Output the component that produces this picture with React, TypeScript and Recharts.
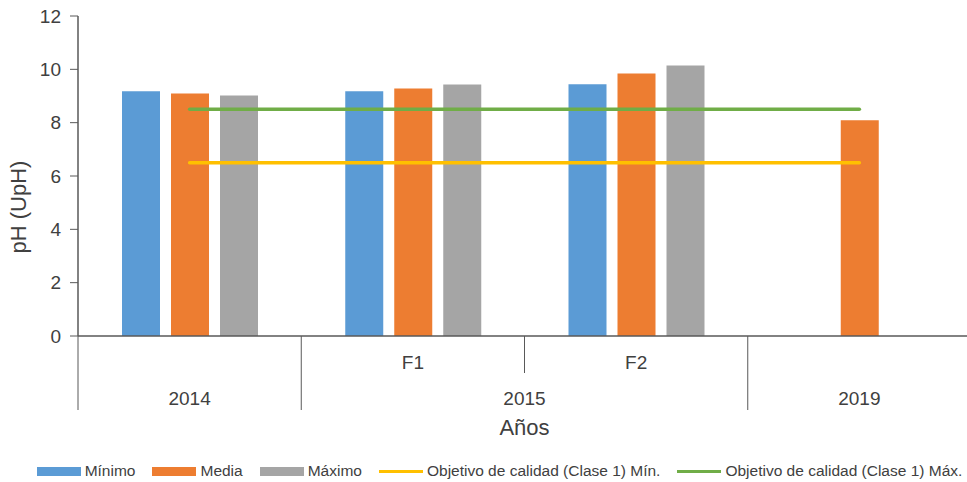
import React from "react";
import { ComposedChart, Bar, Line, XAxis, YAxis, Legend } from "recharts";

// pH por año / campaña
const groups = ["2014", "2015", "2015", "2019"];
const subLabels = ["", "F1", "F2", ""];
const minimo = [9.18, 9.18, 9.44, null];
const media = [9.09, 9.28, 9.84, 8.09];
const maximo = [9.02, 9.43, 10.14, null];
const objetivoMin = [6.5, 6.5, 6.5, 6.5];
const objetivoMax = [8.5, 8.5, 8.5, 8.5];
const yTicks = [0, 2, 4, 6, 8, 10, 12];

const series = [
  { key: "minimo", name: "Mínimo", color: "#5B9BD5", type: "bar" },
  { key: "media", name: "Media", color: "#ED7D31", type: "bar" },
  { key: "maximo", name: "Máximo", color: "#A5A5A5", type: "bar" },
  { key: "objMin", name: "Objetivo de calidad (Clase 1) Mín.", color: "#FFC000", type: "line" },
  { key: "objMax", name: "Objetivo de calidad (Clase 1) Máx.", color: "#70AD47", type: "line" },
];

const data = groups.map((g, i) => ({
  cat: `${g} ${subLabels[i]}`.trim(),
  minimo: minimo[i],
  media: media[i],
  maximo: maximo[i],
  objMin: objetivoMin[i],
  objMax: objetivoMax[i],
}));

const WIDTH = 971;
const HEIGHT = 482;
const Y_AXIS_WIDTH = 78;
const BAND = (WIDTH - Y_AXIS_WIDTH) / groups.length;
const AXIS_COLOR = "#595959";
const TEXT_COLOR = "#404040";
const FONT = "'Liberation Sans', Arial, sans-serif";

// two-level category axis: sub labels, group labels and separators
function CategoryTick(props: any) {
  const { x, y, index } = props;
  const left = x - BAND / 2;
  const startsGroup = index === 0 || groups[index] !== groups[index - 1];
  let span = 1;
  while (index + span < groups.length && groups[index + span] === groups[index]) span++;
  return (
    <g>
      <line x1={left} x2={left} y1={y} y2={y + (startsGroup ? 74 : 37)} stroke={AXIS_COLOR} strokeWidth={1} />
      {subLabels[index] && (
        <text x={x} y={y + 33} textAnchor="middle" fontSize={19} fill={TEXT_COLOR} fontFamily={FONT}>
          {subLabels[index]}
        </text>
      )}
      {startsGroup && (
        <text x={left + (span * BAND) / 2} y={y + 69} textAnchor="middle" fontSize={19} fill={TEXT_COLOR} fontFamily={FONT}>
          {groups[index]}
        </text>
      )}
    </g>
  );
}

function LegendContent() {
  return (
    <div
      style={{
        height: 30,
        paddingTop: 8,
        paddingLeft: 28,
        boxSizing: "border-box",
        display: "flex",
        alignItems: "center",
        justifyContent: "center",
        fontFamily: FONT,
        fontSize: 15.5,
        color: TEXT_COLOR,
      }}
    >
      {series.map((s, i) => (
        <div
          key={s.key}
          style={{ display: "flex", alignItems: "center", marginRight: i === series.length - 1 ? 0 : 17 }}
        >
          <div
            style={{
              width: 44,
              height: s.type === "bar" ? 9 : 3,
              background: s.color,
              marginRight: 4,
            }}
          />
          <span>{s.name}</span>
        </div>
      ))}
    </div>
  );
}

export default function App() {
  return (
    <div style={{ position: "absolute", left: 0, top: 0, width: 967, height: 482, overflow: "hidden", background: "#fff" }}>
      <ComposedChart
        width={WIDTH}
        height={HEIGHT}
        data={data}
        margin={{ top: 16, right: 0, left: 0, bottom: 0 }}
        barGap={11}
      >
        <XAxis
          dataKey="cat"
          height={116}
          interval={0}
          tickLine={false}
          tickSize={0}
          tickMargin={0}
          tick={CategoryTick}
          axisLine={{ stroke: AXIS_COLOR, strokeWidth: 1.5 }}
          label={{
            content: ({ viewBox }: any) => (
              <text x={viewBox.x + viewBox.width / 2} y={435} textAnchor="middle" fontSize={22} fill={TEXT_COLOR} fontFamily={FONT}>
                Años
              </text>
            ),
          }}
        />
        <YAxis
          width={Y_AXIS_WIDTH}
          domain={[0, 12]}
          ticks={yTicks}
          interval={0}
          tickSize={8}
          tickMargin={9}
          tick={{ fontSize: 19, fill: TEXT_COLOR, fontFamily: FONT }}
          tickLine={{ stroke: AXIS_COLOR }}
          axisLine={{ stroke: AXIS_COLOR, strokeWidth: 1.5 }}
          label={{
            content: () => (
              <text transform="translate(26,207) rotate(-90)" textAnchor="middle" fontSize={22} fill={TEXT_COLOR} fontFamily={FONT}>
                pH (UpH)
              </text>
            ),
          }}
        />
        <Legend verticalAlign="bottom" height={30} content={LegendContent} />
        <Bar dataKey="minimo" name="Mínimo" fill="#5B9BD5" barSize={38} isAnimationActive={false} />
        <Bar dataKey="media" name="Media" fill="#ED7D31" barSize={38} isAnimationActive={false} />
        <Bar dataKey="maximo" name="Máximo" fill="#A5A5A5" barSize={38} isAnimationActive={false} />
        <Line
          dataKey="objMin"
          name="Objetivo de calidad (Clase 1) Mín."
          stroke="#FFC000"
          strokeWidth={3.5}
          strokeLinecap="round"
          dot={false}
          activeDot={false}
          isAnimationActive={false}
        />
        <Line
          dataKey="objMax"
          name="Objetivo de calidad (Clase 1) Máx."
          stroke="#70AD47"
          strokeWidth={3.5}
          strokeLinecap="round"
          dot={false}
          activeDot={false}
          isAnimationActive={false}
        />
      </ComposedChart>
    </div>
  );
}
